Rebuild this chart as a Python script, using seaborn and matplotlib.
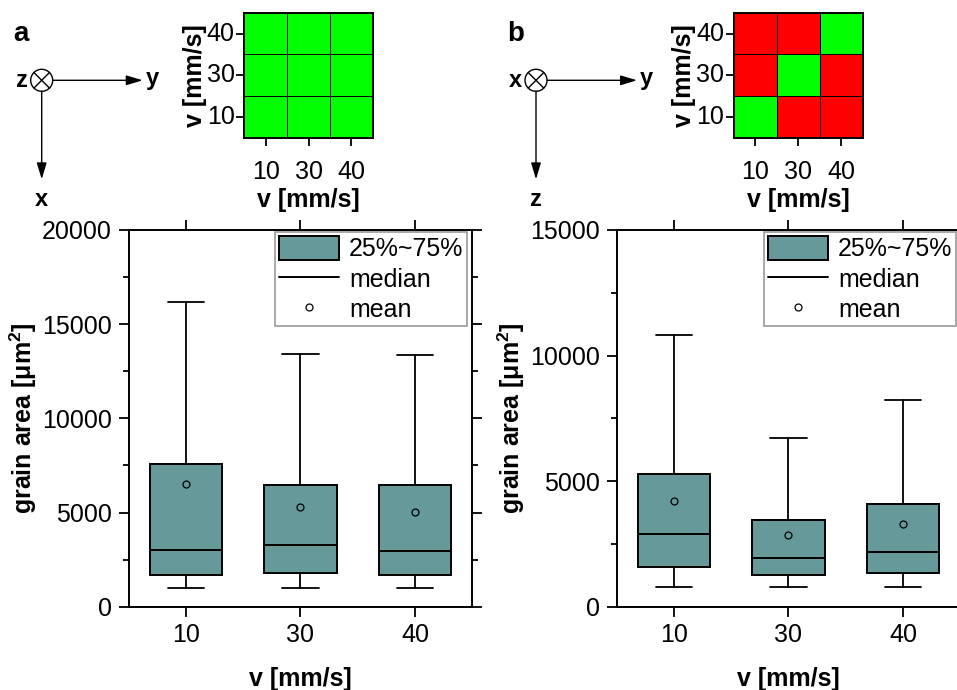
import numpy as np
import seaborn as sns
import matplotlib.pyplot as plt
from matplotlib.colors import ListedColormap
from matplotlib.patches import Patch, Circle
from matplotlib.lines import Line2D
from matplotlib.ticker import MultipleLocator

# Dados
speeds = ['10', '30', '40']
rows_lbl = ['40', '30', '10']

# painel a (z perpendicular)
a_q1 = [1670, 1790, 1670]
a_med = [3000, 3300, 2950]
a_q3 = [7600, 6450, 6450]
a_mean = [6500, 5300, 5050]
a_lo = [1000, 1000, 1000]
a_hi = [16200, 13400, 13350]

# painel b (x perpendicular)
b_q1 = [1590, 1270, 1340]
b_med = [2880, 1950, 2190]
b_q3 = [5270, 3460, 4100]
b_mean = [4200, 2850, 3300]
b_lo = [800, 800, 800]
b_hi = [10800, 6700, 8240]

# mapas 3x3 (1 = verde, 0 = vermelho), linhas de cima para baixo: 40, 30, 10
a_grid = [[1, 1, 1], [1, 1, 1], [1, 1, 1]]
b_grid = [[0, 0, 1], [0, 1, 0], [1, 0, 0]]

sns.set_style('ticks')
plt.rcParams['font.family'] = ['Liberation Sans', 'DejaVu Sans']
plt.rcParams['mathtext.fontset'] = 'custom'
plt.rcParams['mathtext.rm'] = 'Liberation Sans'
plt.rcParams['mathtext.bf'] = 'Liberation Sans:bold'
for k in ['text.color', 'axes.labelcolor', 'xtick.color', 'ytick.color', 'axes.edgecolor']:
    plt.rcParams[k] = 'black'

box_color = '#669999'
fs = 18

fig = plt.figure(figsize=(9.57, 6.9), dpi=100)


def caixa(ax, q1, med, q3, mean, lo, hi, ymax, label_right):
    stats = []
    for i in range(len(speeds)):
        stats.append({'q1': q1[i], 'med': med[i], 'q3': q3[i], 'mean': mean[i],
                      'whislo': lo[i], 'whishi': hi[i], 'fliers': []})
    ax.bxp(stats, positions=range(len(speeds)), widths=0.635, capwidths=0.32,
           patch_artist=True, showmeans=True,
           boxprops=dict(facecolor=box_color, edgecolor='black', linewidth=1.4),
           medianprops=dict(color='black', linewidth=1.4),
           whiskerprops=dict(color='black', linewidth=1.3),
           capprops=dict(color='black', linewidth=1.3),
           meanprops=dict(marker='o', markerfacecolor='none', markeredgecolor='black',
                          markersize=5, markeredgewidth=0.9))
    ax.set_xlim(-0.5, 2.5)
    ax.set_ylim(0, ymax)
    ax.set_xticks(range(len(speeds)))
    ax.set_xticklabels(speeds)
    ax.yaxis.set_major_locator(MultipleLocator(5000))
    ax.yaxis.set_minor_locator(MultipleLocator(2500))
    for s in ax.spines.values():
        s.set_visible(True)
        s.set_color('black')
        s.set_linewidth(1.4)
    ax.tick_params(axis='both', which='major', direction='out', length=7, width=1.3,
                   labelsize=fs, pad=5, color='black')
    ax.tick_params(axis='y', which='minor', direction='out', length=4, width=1.3, color='black')
    ax.tick_params(axis='x', top=True, labeltop=False)
    ax.tick_params(axis='y', which='both', right=True, labelright=False)
    ax.set_xlabel('v [mm/s]', fontsize=fs, fontweight='bold', labelpad=14)
    ax.set_ylabel(r'grain area [μm$^{\mathbf{2}}$]', fontsize=fs, fontweight='bold', labelpad=2)
    handles = [Patch(facecolor=box_color, edgecolor='black', linewidth=1.4),
               Line2D([], [], color='black', linewidth=1.4),
               Line2D([], [], linestyle='none', marker='o', markerfacecolor='white',
                      markeredgecolor='black', markersize=5, markeredgewidth=0.9)]
    leg = ax.legend(handles, ['25%~75%', 'median', 'mean'], loc='upper right',
                    bbox_to_anchor=label_right, fontsize=fs, frameon=True, fancybox=False,
                    handlelength=2.4, handleheight=1.1, labelspacing=0.2,
                    borderpad=0.15, borderaxespad=0.0, handletextpad=0.4)
    leg.get_frame().set_edgecolor('#808080')
    leg.get_frame().set_linewidth(1.2)


def mapa(ax, grid):
    sns.heatmap(np.array(grid), ax=ax, cmap=ListedColormap(['#FF0000', '#00FF00']),
                vmin=0, vmax=1, cbar=False, linewidths=0.7, linecolor='black',
                xticklabels=speeds, yticklabels=rows_lbl, square=False)
    for s in ax.spines.values():
        s.set_visible(True)
        s.set_color('black')
        s.set_linewidth(1.4)
    ax.tick_params(axis='both', direction='out', length=6, width=1.3, labelsize=fs,
                   color='black', rotation=0)
    ax.tick_params(axis='x', pad=10)
    ax.tick_params(axis='y', pad=1)
    ax.set_xlabel('v [mm/s]', fontsize=fs, fontweight='bold', labelpad=3)
    ax.set_ylabel('v [mm/s]', fontsize=fs, fontweight='bold', labelpad=0)


# caixas
ax_a = fig.add_axes([0.1345, 0.1207, 0.359, 0.546])
caixa(ax_a, a_q1, a_med, a_q3, a_mean, a_lo, a_hi, 20000, (0.985, 0.994))
ax_b = fig.add_axes([0.6444, 0.1207, 0.359, 0.546])
caixa(ax_b, b_q1, b_med, b_q3, b_mean, b_lo, b_hi, 15000, (0.988, 0.994))

# mapas
ins_a = fig.add_axes([0.2553, 0.8004, 0.1342, 0.1812])
mapa(ins_a, a_grid)
ins_b = fig.add_axes([0.767, 0.8004, 0.1343, 0.1812])
mapa(ins_b, b_grid)

# eixos de coordenadas desenhados em pixels
ov = fig.add_axes([0, 0, 1, 1], facecolor='none')
ov.set_xlim(0, 957)
ov.set_ylim(690, 0)
ov.axis('off')


def eixos(cx, cy, left_lbl, right_lbl, down_lbl, panel, px):
    r = 11
    ov.add_patch(Circle((cx, cy), r, facecolor='white', edgecolor='black', linewidth=1))
    d = r * 0.707
    ov.plot([cx - d, cx + d], [cy - d, cy + d], color='black', linewidth=1)
    ov.plot([cx - d, cx + d], [cy + d, cy - d], color='black', linewidth=1)
    ov.annotate('', xy=(cx + 101, cy), xytext=(cx + r, cy),
                arrowprops=dict(arrowstyle='-|>,head_length=1.0,head_width=0.3',
                                color='black', linewidth=1, shrinkA=0, shrinkB=0))
    ov.annotate('', xy=(cx, cy + 99), xytext=(cx, cy + r),
                arrowprops=dict(arrowstyle='-|>,head_length=1.0,head_width=0.3',
                                color='black', linewidth=1, shrinkA=0, shrinkB=0))
    ov.text(cx - r - 3, cy, left_lbl, ha='right', va='center', fontsize=17, fontweight='bold')
    ov.text(cx + 104, cy - 2, right_lbl, ha='left', va='center', fontsize=17, fontweight='bold')
    ov.text(cx, cy + 108, down_lbl, ha='center', va='top', fontsize=17, fontweight='bold')
    ov.text(px, 34, panel, ha='left', va='center', fontsize=20, fontweight='bold')


eixos(41.7, 80.3, 'z', 'y', 'x', 'a', 13)
eixos(536, 80.3, 'x', 'y', 'z', 'b', 507)

fig.savefig('out.png', dpi=100)
